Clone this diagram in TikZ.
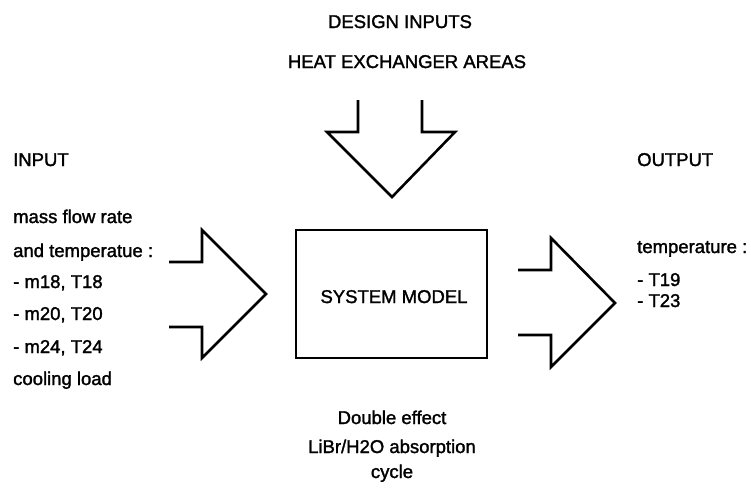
\documentclass[tikz,border=0pt]{standalone}
\usepackage{fontspec}
\setmainfont{Liberation Sans}
\newfontfamily\lblfont[FakeBold=1.6]{Liberation Sans}
\begin{document}
\begin{tikzpicture}[x=1pt,y=-1pt,
  lbl/.style={font=\lblfont\fontsize{18.5}{20}\selectfont, inner sep=0pt},
  blockarrow/.style={draw=black, line width=2.6pt, line join=miter},
  modelbox/.style={draw=black, line width=2pt, minimum width=191pt, minimum height=128pt, inner sep=0pt}]
  \useasboundingbox (0,0) rectangle (751,491);

  % design inputs
  \node[lbl, anchor=base] (design) at (400,28) {DESIGN INPUTS};
  \node[lbl, anchor=base] (areas) at (407,68) {HEAT EXCHANGER AREAS};

  % system model block
  \node[modelbox] (model) at (391.5,294) {};
  \node[lbl, anchor=base] (modeltext) at (394,303) {SYSTEM MODEL};

  % block arrows
  \draw[blockarrow] (358,100) -- (358,132) -- (327,132) -- (392,197) -- (455,132) -- (422,132) -- (422,100);
  \draw[blockarrow] (169,262) -- (202,262) -- (202,230) -- (266,294) -- (202,358) -- (202,327) -- (169,327);
  \draw[blockarrow] (518,270) -- (551,270) -- (551,238) -- (615,303) -- (551,367) -- (551,335) -- (518,335);

  % inputs
  \node[lbl, anchor=base west] (inhead) at (13,166) {INPUT};
  \node[lbl, anchor=base west] (in1) at (13,223) {mass flow rate};
  \node[lbl, anchor=base west] (in2) at (13,257) {and temperatue :};
  \node[lbl, anchor=base west] (in3) at (13,288) {- m18, T18};
  \node[lbl, anchor=base west] (in4) at (13,320) {- m20, T20};
  \node[lbl, anchor=base west] (in5) at (13,353) {- m24, T24};
  \node[lbl, anchor=base west] (in6) at (13,385) {cooling load};

  % outputs
  \node[lbl, anchor=base west] (outhead) at (637,166) {OUTPUT};
  \node[lbl, anchor=base west] (out1) at (637,253) {temperature :};
  \node[lbl, anchor=base west] (out2) at (637,286) {- T19};
  \node[lbl, anchor=base west] (out3) at (637,307) {- T23};

  % cycle description
  \node[lbl, anchor=base] (cyc1) at (392,424) {Double effect};
  \node[lbl, anchor=base] (cyc2) at (392,453) {LiBr/H2O absorption};
  \node[lbl, anchor=base] (cyc3) at (392,478) {cycle};
\end{tikzpicture}
\end{document}
